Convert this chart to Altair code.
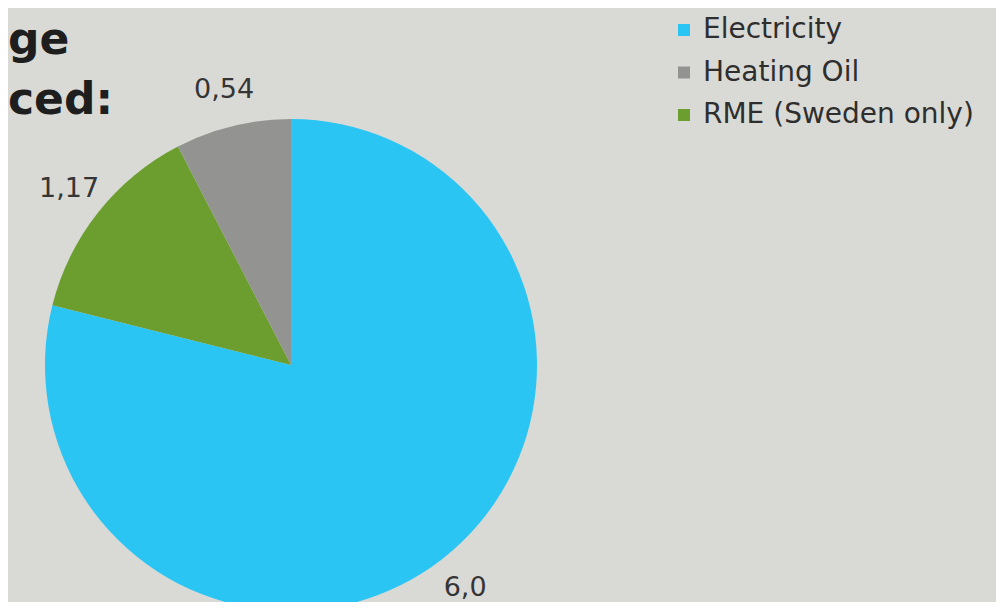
import altair as alt
import pandas as pd

# Data
categories = ["Electricity", "RME (Sweden only)", "Heating Oil"]
shares = [78.9, 13.5, 7.6]          # slice shares as drawn (percent of the circle)
value_labels = ["6,0", "1,17", "0,54"]
legend_order = ["Electricity", "Heating Oil", "RME (Sweden only)"]
colors = ["#2bc5f4", "#939391", "#6b9e2f"]
title_lines = ["ge", "ced:"]

df = pd.DataFrame({
    "source": categories,
    "share": shares,
    "label": value_labels,
    "order": list(range(len(categories))),
})

base = alt.Chart(df).encode(
    theta=alt.Theta("share:Q", stack=True),
    order=alt.Order("order:Q"),
)

arcs = base.mark_arc(radius=246, stroke=None).encode(
    color=alt.Color(
        "source:N",
        scale=alt.Scale(domain=legend_order, range=colors),
        legend=alt.Legend(
            title=None,
            orient="none",
            legendX=662,
            legendY=-112,
            symbolType="square",
            symbolSize=144,
            symbolStrokeWidth=0,
            labelFont="DejaVu Sans",
            labelFontWeight="normal",
            labelFontSize=28,
            labelColor="#2e2e2e",
            labelOffset=5,
            labelLimit=400,
            rowPadding=14.5,
        ),
    )
)

labels = base.mark_text(
    radius=283, font="DejaVu Sans", fontWeight="normal", fontSize=27, color="#353535"
).encode(text="label:N")

chart = (
    alt.layer(arcs, labels)
    .properties(
        width=566,
        height=474,
        padding={"left": 0, "top": 120, "right": 422, "bottom": 0},
        autosize=alt.AutoSizeParams(type="none"),
        background="#d9dad5",
        title=alt.TitleParams(
            text=title_lines,
            anchor="start",
            frame="group",
            font="DejaVu Sans",
            fontWeight="bold",
            fontSize=44,
            lineHeight=60,
            color="#1e1e1e",
            offset=0,
            baseline="alphabetic",
            dy=142,
        ),
    )
    .configure_view(stroke=None)
)

chart.save("out.html", embed_options={"renderer": "svg", "actions": False})
